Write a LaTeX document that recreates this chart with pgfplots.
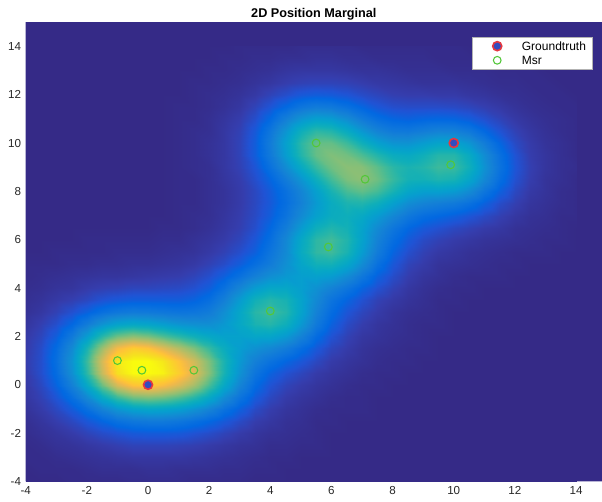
\documentclass[border=0pt]{standalone}
\usepackage{fontspec}
\setmainfont{Liberation Sans}
\usepackage{pgfplots}
\pgfplotsset{compat=1.18}

\definecolor{bgblue}{rgb}{0.2081,0.1663,0.5292}
\definecolor{msrgreen}{rgb}{0.32,0.78,0.22}
\definecolor{gtblue}{rgb}{0.20,0.30,0.75}
\definecolor{gtred}{rgb}{0.90,0.22,0.25}

% parula colour map (every third entry of the 64-step table)
\pgfplotsset{colormap={parula}{
 rgb=(0.2081,0.1663,0.5292) rgb=(0.2081,0.2386,0.6771) rgb=(0.1253,0.3242,0.8303)
 rgb=(0.0060,0.4086,0.8828) rgb=(0.0498,0.4586,0.8641) rgb=(0.0779,0.5040,0.8384)
 rgb=(0.0641,0.5570,0.8240) rgb=(0.0265,0.6137,0.8135) rgb=(0.0228,0.6535,0.7768)
 rgb=(0.0590,0.6838,0.7254) rgb=(0.1453,0.7098,0.6646) rgb=(0.2586,0.7317,0.5954)
 rgb=(0.3953,0.7459,0.5244) rgb=(0.5300,0.7491,0.4661) rgb=(0.6473,0.7456,0.4188)
 rgb=(0.7525,0.7384,0.3768) rgb=(0.8507,0.7299,0.3360) rgb=(0.9450,0.7261,0.2886)
 rgb=(0.9990,0.7653,0.2164) rgb=(0.9789,0.8271,0.1633) rgb=(0.9589,0.8949,0.1132)
 rgb=(0.9763,0.9831,0.0538)}}

\begin{document}
\begin{tikzpicture}
\begin{axis}[
  scale only axis, width=432.2pt, height=344.5pt,
  view={0}{90},
  xmin=-4, xmax=14.85, ymin=-4, ymax=15, zmin=0, zmax=2.5,
  xtick={-4,-2,...,14}, ytick={-4,-2,...,14}, ztick=\empty,
  major tick length=0pt, tick style={draw=none},
  axis line style={draw=none},
  colormap name=parula, point meta min=0, point meta max=2.1,
  ticklabel style={font=\fontsize{8.7}{10}\selectfont, text=black!85},
  /pgf/number format/assume math mode=true,
  title={2D Position Marginal},
  title style={font=\bfseries\fontsize{9.5}{11}\selectfont, yshift=-8pt},
  legend cell align=left,
  legend style={at={(0.983,0.968)}, anchor=north east, fill=white,
    draw=black!30, line width=0.4pt, inner xsep=3pt, inner ysep=1.5pt,
    font=\fontsize{9}{10}\selectfont, /tikz/column sep=3.5pt, /tikz/row sep=0pt,
    nodes={inner xsep=1.5pt, inner ysep=2pt, text height=6.6pt, text depth=0pt}},
  legend image code/.code={\path[draw=none,fill=none] (0pt,-3pt) rectangle (29pt,3pt);
    \draw[#1] plot coordinates {(15.5pt,0pt)};},
]

% empty field
\addplot3[surf, shader=flat, point meta=z, forget plot] coordinates {
(-4,-4,0) (15,-4,0)

(-4,15,0) (15,15,0)
};

% marginal density of the position
\addplot3[surf, shader=interp, point meta=z, forget plot] coordinates {
(-4,-4,0) (-3.5,-4,0) (-3,-4,0) (-2.5,-4,0.01) (-2,-4,0.01) (-1.5,-4,0.01) (-1,-4,0.01) (-0.5,-4,0.02) (0,-4,0.02) (0.5,-4,0.02) (1,-4,0.02) (1.5,-4,0.01) (2,-4,0.01) (2.5,-4,0.01) (3,-4,0.01) (3.5,-4,0) (4,-4,0) (4.5,-4,0) (5,-4,0) (5.5,-4,0) (6,-4,0) (6.5,-4,0) (7,-4,0) (7.5,-4,0) (8,-4,0) (8.5,-4,0) (9,-4,0) (9.5,-4,0) (10,-4,0) (10.5,-4,0) (11,-4,0) (11.5,-4,0) (12,-4,0) (12.5,-4,0) (13,-4,0) (13.5,-4,0) (14,-4,0)

(-4,-3.5,0) (-3.5,-3.5,0.01) (-3,-3.5,0.01) (-2.5,-3.5,0.01) (-2,-3.5,0.02) (-1.5,-3.5,0.03) (-1,-3.5,0.03) (-0.5,-3.5,0.03) (0,-3.5,0.04) (0.5,-3.5,0.04) (1,-3.5,0.03) (1.5,-3.5,0.03) (2,-3.5,0.03) (2.5,-3.5,0.02) (3,-3.5,0.02) (3.5,-3.5,0.01) (4,-3.5,0.01) (4.5,-3.5,0) (5,-3.5,0) (5.5,-3.5,0) (6,-3.5,0) (6.5,-3.5,0) (7,-3.5,0) (7.5,-3.5,0) (8,-3.5,0) (8.5,-3.5,0) (9,-3.5,0) (9.5,-3.5,0) (10,-3.5,0) (10.5,-3.5,0) (11,-3.5,0) (11.5,-3.5,0) (12,-3.5,0) (12.5,-3.5,0) (13,-3.5,0) (13.5,-3.5,0) (14,-3.5,0)

(-4,-3,0.01) (-3.5,-3,0.01) (-3,-3,0.02) (-2.5,-3,0.03) (-2,-3,0.04) (-1.5,-3,0.05) (-1,-3,0.06) (-0.5,-3,0.07) (0,-3,0.07) (0.5,-3,0.07) (1,-3,0.07) (1.5,-3,0.06) (2,-3,0.05) (2.5,-3,0.04) (3,-3,0.03) (3.5,-3,0.02) (4,-3,0.01) (4.5,-3,0.01) (5,-3,0) (5.5,-3,0) (6,-3,0) (6.5,-3,0) (7,-3,0) (7.5,-3,0) (8,-3,0) (8.5,-3,0) (9,-3,0) (9.5,-3,0) (10,-3,0) (10.5,-3,0) (11,-3,0) (11.5,-3,0) (12,-3,0) (12.5,-3,0) (13,-3,0) (13.5,-3,0) (14,-3,0)

(-4,-2.5,0.01) (-3.5,-2.5,0.02) (-3,-2.5,0.04) (-2.5,-2.5,0.05) (-2,-2.5,0.07) (-1.5,-2.5,0.09) (-1,-2.5,0.11) (-0.5,-2.5,0.13) (0,-2.5,0.13) (0.5,-2.5,0.13) (1,-2.5,0.12) (1.5,-2.5,0.11) (2,-2.5,0.09) (2.5,-2.5,0.07) (3,-2.5,0.05) (3.5,-2.5,0.04) (4,-2.5,0.02) (4.5,-2.5,0.02) (5,-2.5,0.01) (5.5,-2.5,0.01) (6,-2.5,0) (6.5,-2.5,0) (7,-2.5,0) (7.5,-2.5,0) (8,-2.5,0) (8.5,-2.5,0) (9,-2.5,0) (9.5,-2.5,0) (10,-2.5,0) (10.5,-2.5,0) (11,-2.5,0) (11.5,-2.5,0) (12,-2.5,0) (12.5,-2.5,0) (13,-2.5,0) (13.5,-2.5,0) (14,-2.5,0)

(-4,-2,0.02) (-3.5,-2,0.04) (-3,-2,0.06) (-2.5,-2,0.09) (-2,-2,0.13) (-1.5,-2,0.17) (-1,-2,0.2) (-0.5,-2,0.23) (0,-2,0.24) (0.5,-2,0.24) (1,-2,0.23) (1.5,-2,0.2) (2,-2,0.17) (2.5,-2,0.13) (3,-2,0.09) (3.5,-2,0.06) (4,-2,0.04) (4.5,-2,0.03) (5,-2,0.02) (5.5,-2,0.01) (6,-2,0) (6.5,-2,0) (7,-2,0) (7.5,-2,0) (8,-2,0) (8.5,-2,0) (9,-2,0) (9.5,-2,0) (10,-2,0) (10.5,-2,0) (11,-2,0) (11.5,-2,0) (12,-2,0) (12.5,-2,0) (13,-2,0) (13.5,-2,0) (14,-2,0)

(-4,-1.5,0.03) (-3.5,-1.5,0.06) (-3,-1.5,0.1) (-2.5,-1.5,0.15) (-2,-1.5,0.22) (-1.5,-1.5,0.29) (-1,-1.5,0.37) (-0.5,-1.5,0.42) (0,-1.5,0.44) (0.5,-1.5,0.44) (1,-1.5,0.41) (1.5,-1.5,0.36) (2,-1.5,0.3) (2.5,-1.5,0.23) (3,-1.5,0.16) (3.5,-1.5,0.1) (4,-1.5,0.07) (4.5,-1.5,0.04) (5,-1.5,0.03) (5.5,-1.5,0.01) (6,-1.5,0.01) (6.5,-1.5,0) (7,-1.5,0) (7.5,-1.5,0) (8,-1.5,0) (8.5,-1.5,0) (9,-1.5,0) (9.5,-1.5,0) (10,-1.5,0) (10.5,-1.5,0) (11,-1.5,0) (11.5,-1.5,0) (12,-1.5,0) (12.5,-1.5,0) (13,-1.5,0) (13.5,-1.5,0) (14,-1.5,0)

(-4,-1,0.05) (-3.5,-1,0.09) (-3,-1,0.15) (-2.5,-1,0.24) (-2,-1,0.36) (-1.5,-1,0.51) (-1,-1,0.65) (-0.5,-1,0.75) (0,-1,0.79) (0.5,-1,0.77) (1,-1,0.72) (1.5,-1,0.63) (2,-1,0.52) (2.5,-1,0.38) (3,-1,0.26) (3.5,-1,0.16) (4,-1,0.1) (4.5,-1,0.06) (5,-1,0.04) (5.5,-1,0.02) (6,-1,0.01) (6.5,-1,0.01) (7,-1,0.01) (7.5,-1,0) (8,-1,0) (8.5,-1,0) (9,-1,0) (9.5,-1,0) (10,-1,0) (10.5,-1,0) (11,-1,0) (11.5,-1,0) (12,-1,0) (12.5,-1,0) (13,-1,0) (13.5,-1,0) (14,-1,0)

(-4,-0.5,0.07) (-3.5,-0.5,0.12) (-3,-0.5,0.21) (-2.5,-0.5,0.36) (-2,-0.5,0.57) (-1.5,-0.5,0.84) (-1,-0.5,1.08) (-0.5,-0.5,1.25) (0,-0.5,1.29) (0.5,-0.5,1.25) (1,-0.5,1.15) (1.5,-0.5,1.01) (2,-0.5,0.82) (2.5,-0.5,0.59) (3,-0.5,0.39) (3.5,-0.5,0.24) (4,-0.5,0.15) (4.5,-0.5,0.09) (5,-0.5,0.06) (5.5,-0.5,0.04) (6,-0.5,0.02) (6.5,-0.5,0.01) (7,-0.5,0.01) (7.5,-0.5,0) (8,-0.5,0) (8.5,-0.5,0) (9,-0.5,0) (9.5,-0.5,0) (10,-0.5,0) (10.5,-0.5,0) (11,-0.5,0) (11.5,-0.5,0) (12,-0.5,0) (12.5,-0.5,0) (13,-0.5,0) (13.5,-0.5,0) (14,-0.5,0)

(-4,0,0.08) (-3.5,0,0.15) (-3,0,0.28) (-2.5,0,0.5) (-2,0,0.82) (-1.5,0,1.22) (-1,0,1.59) (-0.5,0,1.8) (0,0,1.84) (0.5,0,1.75) (1,0,1.6) (1.5,0,1.4) (2,0,1.12) (2.5,0,0.81) (3,0,0.52) (3.5,0,0.32) (4,0,0.2) (4.5,0,0.13) (5,0,0.09) (5.5,0,0.06) (6,0,0.04) (6.5,0,0.02) (7,0,0.01) (7.5,0,0.01) (8,0,0) (8.5,0,0) (9,0,0) (9.5,0,0) (10,0,0) (10.5,0,0) (11,0,0) (11.5,0,0) (12,0,0) (12.5,0,0) (13,0,0) (13.5,0,0) (14,0,0)

(-4,0.5,0.09) (-3.5,0.5,0.18) (-3,0.5,0.33) (-2.5,0.5,0.61) (-2,0.5,1.03) (-1.5,0.5,1.53) (-1,0.5,1.97) (-0.5,0.5,2.1) (0,0.5,2.1) (0.5,0.5,2.06) (1,0.5,1.86) (1.5,0.5,1.62) (2,0.5,1.3) (2.5,0.5,0.94) (3,0.5,0.62) (3.5,0.5,0.4) (4,0.5,0.27) (4.5,0.5,0.19) (5,0.5,0.14) (5.5,0.5,0.09) (6,0.5,0.06) (6.5,0.5,0.04) (7,0.5,0.02) (7.5,0.5,0.01) (8,0.5,0.01) (8.5,0.5,0) (9,0.5,0) (9.5,0.5,0) (10,0.5,0) (10.5,0.5,0) (11,0.5,0) (11.5,0.5,0) (12,0.5,0) (12.5,0.5,0) (13,0.5,0) (13.5,0.5,0) (14,0.5,0)

(-4,1,0.1) (-3.5,1,0.18) (-3,1,0.35) (-2.5,1,0.64) (-2,1,1.08) (-1.5,1,1.59) (-1,1,2.02) (-0.5,1,2.1) (0,1,2.1) (0.5,1,2.01) (1,1,1.79) (1.5,1,1.56) (2,1,1.27) (2.5,1,0.95) (3,1,0.67) (3.5,1,0.49) (4,1,0.38) (4.5,1,0.29) (5,1,0.22) (5.5,1,0.15) (6,1,0.09) (6.5,1,0.06) (7,1,0.04) (7.5,1,0.02) (8,1,0.01) (8.5,1,0.01) (9,1,0) (9.5,1,0) (10,1,0) (10.5,1,0) (11,1,0) (11.5,1,0) (12,1,0) (12.5,1,0) (13,1,0) (13.5,1,0) (14,1,0)

(-4,1.5,0.09) (-3.5,1.5,0.17) (-3,1.5,0.32) (-2.5,1.5,0.57) (-2,1.5,0.95) (-1.5,1.5,1.37) (-1,1.5,1.72) (-0.5,1.5,1.86) (0,1.5,1.8) (0.5,1.5,1.63) (1,1.5,1.45) (1.5,1.5,1.27) (2,1.5,1.06) (2.5,1.5,0.86) (3,1.5,0.71) (3.5,1.5,0.62) (4,1.5,0.55) (4.5,1.5,0.46) (5,1.5,0.34) (5.5,1.5,0.23) (6,1.5,0.14) (6.5,1.5,0.09) (7,1.5,0.05) (7.5,1.5,0.03) (8,1.5,0.02) (8.5,1.5,0.01) (9,1.5,0.01) (9.5,1.5,0) (10,1.5,0) (10.5,1.5,0) (11,1.5,0) (11.5,1.5,0) (12,1.5,0) (12.5,1.5,0) (13,1.5,0) (13.5,1.5,0) (14,1.5,0)

(-4,2,0.08) (-3.5,2,0.14) (-3,2,0.25) (-2.5,2,0.44) (-2,2,0.7) (-1.5,2,1) (-1,2,1.22) (-0.5,2,1.31) (0,2,1.25) (0.5,2,1.13) (1,2,1.01) (1.5,2,0.9) (2,2,0.81) (2.5,2,0.75) (3,2,0.75) (3.5,2,0.79) (4,2,0.78) (4.5,2,0.68) (5,2,0.51) (5.5,2,0.33) (6,2,0.2) (6.5,2,0.12) (7,2,0.07) (7.5,2,0.05) (8,2,0.03) (8.5,2,0.02) (9,2,0.01) (9.5,2,0) (10,2,0) (10.5,2,0) (11,2,0) (11.5,2,0) (12,2,0) (12.5,2,0) (13,2,0) (13.5,2,0) (14,2,0)

(-4,2.5,0.06) (-3.5,2.5,0.11) (-3,2.5,0.18) (-2.5,2.5,0.3) (-2,2.5,0.46) (-1.5,2.5,0.63) (-1,2.5,0.75) (-0.5,2.5,0.8) (0,2.5,0.77) (0.5,2.5,0.71) (1,2.5,0.64) (1.5,2.5,0.61) (2,2.5,0.6) (2.5,2.5,0.67) (3,2.5,0.81) (3.5,2.5,0.95) (4,2.5,1) (4.5,2.5,0.89) (5,2.5,0.67) (5.5,2.5,0.44) (6,2.5,0.27) (6.5,2.5,0.16) (7,2.5,0.1) (7.5,2.5,0.06) (8,2.5,0.04) (8.5,2.5,0.02) (9,2.5,0.01) (9.5,2.5,0.01) (10,2.5,0) (10.5,2.5,0) (11,2.5,0) (11.5,2.5,0) (12,2.5,0) (12.5,2.5,0) (13,2.5,0) (13.5,2.5,0) (14,2.5,0)

(-4,3,0.04) (-3.5,3,0.07) (-3,3,0.12) (-2.5,3,0.19) (-2,3,0.27) (-1.5,3,0.36) (-1,3,0.42) (-0.5,3,0.45) (0,3,0.44) (0.5,3,0.42) (1,3,0.4) (1.5,3,0.41) (2,3,0.46) (2.5,3,0.6) (3,3,0.8) (3.5,3,1.01) (4,3,1.09) (4.5,3,0.99) (5,3,0.76) (5.5,3,0.51) (6,3,0.33) (6.5,3,0.21) (7,3,0.14) (7.5,3,0.09) (8,3,0.05) (8.5,3,0.03) (9,3,0.02) (9.5,3,0.01) (10,3,0) (10.5,3,0) (11,3,0) (11.5,3,0) (12,3,0) (12.5,3,0) (13,3,0) (13.5,3,0) (14,3,0)

(-4,3.5,0.03) (-3.5,3.5,0.05) (-3,3.5,0.08) (-2.5,3.5,0.11) (-2,3.5,0.15) (-1.5,3.5,0.2) (-1,3.5,0.23) (-0.5,3.5,0.25) (0,3.5,0.25) (0.5,3.5,0.25) (1,3.5,0.25) (1.5,3.5,0.28) (2,3.5,0.35) (2.5,3.5,0.49) (3,3.5,0.7) (3.5,3.5,0.91) (4,3.5,1) (4.5,3.5,0.94) (5,3.5,0.76) (5.5,3.5,0.56) (6,3.5,0.39) (6.5,3.5,0.28) (7,3.5,0.19) (7.5,3.5,0.12) (8,3.5,0.08) (8.5,3.5,0.05) (9,3.5,0.03) (9.5,3.5,0.01) (10,3.5,0.01) (10.5,3.5,0) (11,3.5,0) (11.5,3.5,0) (12,3.5,0) (12.5,3.5,0) (13,3.5,0) (13.5,3.5,0) (14,3.5,0)

(-4,4,0.02) (-3.5,4,0.03) (-3,4,0.05) (-2.5,4,0.06) (-2,4,0.09) (-1.5,4,0.11) (-1,4,0.12) (-0.5,4,0.14) (0,4,0.14) (0.5,4,0.15) (1,4,0.16) (1.5,4,0.19) (2,4,0.25) (2.5,4,0.37) (3,4,0.54) (3.5,4,0.7) (4,4,0.8) (4.5,4,0.8) (5,4,0.72) (5.5,4,0.62) (6,4,0.51) (6.5,4,0.4) (7,4,0.28) (7.5,4,0.19) (8,4,0.12) (8.5,4,0.07) (9,4,0.04) (9.5,4,0.02) (10,4,0.01) (10.5,4,0.01) (11,4,0) (11.5,4,0) (12,4,0) (12.5,4,0) (13,4,0) (13.5,4,0) (14,4,0)

(-4,4.5,0.01) (-3.5,4.5,0.02) (-3,4.5,0.03) (-2.5,4.5,0.04) (-2,4.5,0.05) (-1.5,4.5,0.06) (-1,4.5,0.06) (-0.5,4.5,0.07) (0,4.5,0.08) (0.5,4.5,0.09) (1,4.5,0.1) (1.5,4.5,0.13) (2,4.5,0.18) (2.5,4.5,0.26) (3,4.5,0.37) (3.5,4.5,0.49) (4,4.5,0.6) (4.5,4.5,0.67) (5,4.5,0.72) (5.5,4.5,0.74) (6,4.5,0.7) (6.5,4.5,0.58) (7,4.5,0.42) (7.5,4.5,0.27) (8,4.5,0.17) (8.5,4.5,0.1) (9,4.5,0.06) (9.5,4.5,0.04) (10,4.5,0.02) (10.5,4.5,0.01) (11,4.5,0.01) (11.5,4.5,0.01) (12,4.5,0) (12.5,4.5,0) (13,4.5,0) (13.5,4.5,0) (14,4.5,0)

(-4,5,0.01) (-3.5,5,0.01) (-3,5,0.01) (-2.5,5,0.02) (-2,5,0.02) (-1.5,5,0.03) (-1,5,0.03) (-0.5,5,0.04) (0,5,0.04) (0.5,5,0.05) (1,5,0.06) (1.5,5,0.08) (2,5,0.12) (2.5,5,0.17) (3,5,0.25) (3.5,5,0.35) (4,5,0.46) (4.5,5,0.61) (5,5,0.78) (5.5,5,0.91) (6,5,0.92) (6.5,5,0.79) (7,5,0.58) (7.5,5,0.37) (8,5,0.22) (8.5,5,0.13) (9,5,0.09) (9.5,5,0.05) (10,5,0.04) (10.5,5,0.03) (11,5,0.02) (11.5,5,0.01) (12,5,0.01) (12.5,5,0) (13,5,0) (13.5,5,0) (14,5,0)

(-4,5.5,0) (-3.5,5.5,0) (-3,5.5,0.01) (-2.5,5.5,0.01) (-2,5.5,0.01) (-1.5,5.5,0.01) (-1,5.5,0.02) (-0.5,5.5,0.02) (0,5.5,0.02) (0.5,5.5,0.03) (1,5.5,0.04) (1.5,5.5,0.05) (2,5.5,0.08) (2.5,5.5,0.12) (3,5.5,0.18) (3.5,5.5,0.26) (4,5.5,0.4) (4.5,5.5,0.57) (5,5.5,0.84) (5.5,5.5,1.04) (6,5.5,1.09) (6.5,5.5,0.95) (7,5.5,0.7) (7.5,5.5,0.46) (8,5.5,0.28) (8.5,5.5,0.18) (9,5.5,0.12) (9.5,5.5,0.08) (10,5.5,0.06) (10.5,5.5,0.04) (11,5.5,0.03) (11.5,5.5,0.02) (12,5.5,0.01) (12.5,5.5,0.01) (13,5.5,0.01) (13.5,5.5,0) (14,5.5,0)

(-4,6,0) (-3.5,6,0) (-3,6,0) (-2.5,6,0) (-2,6,0.01) (-1.5,6,0.01) (-1,6,0.01) (-0.5,6,0.01) (0,6,0.01) (0.5,6,0.02) (1,6,0.02) (1.5,6,0.04) (2,6,0.06) (2.5,6,0.09) (3,6,0.14) (3.5,6,0.22) (4,6,0.35) (4.5,6,0.55) (5,6,0.81) (5.5,6,1.03) (6,6,1.1) (6.5,6,0.98) (7,6,0.75) (7.5,6,0.51) (8,6,0.34) (8.5,6,0.23) (9,6,0.16) (9.5,6,0.12) (10,6,0.09) (10.5,6,0.07) (11,6,0.05) (11.5,6,0.04) (12,6,0.03) (12.5,6,0.02) (13,6,0.01) (13.5,6,0.01) (14,6,0)

(-4,6.5,0) (-3.5,6.5,0) (-3,6.5,0) (-2.5,6.5,0) (-2,6.5,0) (-1.5,6.5,0) (-1,6.5,0) (-0.5,6.5,0) (0,6.5,0) (0.5,6.5,0.01) (1,6.5,0.01) (1.5,6.5,0.02) (2,6.5,0.04) (2.5,6.5,0.07) (3,6.5,0.11) (3.5,6.5,0.18) (4,6.5,0.3) (4.5,6.5,0.47) (5,6.5,0.69) (5.5,6.5,0.89) (6,6.5,0.98) (6.5,6.5,0.92) (7,6.5,0.76) (7.5,6.5,0.57) (8,6.5,0.41) (8.5,6.5,0.3) (9,6.5,0.23) (9.5,6.5,0.19) (10,6.5,0.15) (10.5,6.5,0.12) (11,6.5,0.09) (11.5,6.5,0.07) (12,6.5,0.04) (12.5,6.5,0.03) (13,6.5,0.02) (13.5,6.5,0.01) (14,6.5,0)

(-4,7,0) (-3.5,7,0) (-3,7,0) (-2.5,7,0) (-2,7,0) (-1.5,7,0) (-1,7,0) (-0.5,7,0) (0,7,0) (0.5,7,0) (1,7,0.01) (1.5,7,0.02) (2,7,0.03) (2.5,7,0.06) (3,7,0.1) (3.5,7,0.16) (4,7,0.25) (4.5,7,0.39) (5,7,0.57) (5.5,7,0.74) (6,7,0.86) (6.5,7,0.89) (7,7,0.82) (7.5,7,0.69) (8,7,0.54) (8.5,7,0.42) (9,7,0.34) (9.5,7,0.3) (10,7,0.26) (10.5,7,0.21) (11,7,0.16) (11.5,7,0.11) (12,7,0.07) (12.5,7,0.04) (13,7,0.03) (13.5,7,0.01) (14,7,0.01)

(-4,7.5,0) (-3.5,7.5,0) (-3,7.5,0) (-2.5,7.5,0) (-2,7.5,0) (-1.5,7.5,0) (-1,7.5,0) (-0.5,7.5,0) (0,7.5,0) (0.5,7.5,0) (1,7.5,0.01) (1.5,7.5,0.01) (2,7.5,0.03) (2.5,7.5,0.05) (3,7.5,0.09) (3.5,7.5,0.15) (4,7.5,0.23) (4.5,7.5,0.35) (5,7.5,0.5) (5.5,7.5,0.68) (6,7.5,0.85) (6.5,7.5,0.96) (7,7.5,0.98) (7.5,7.5,0.89) (8,7.5,0.73) (8.5,7.5,0.59) (9,7.5,0.52) (9.5,7.5,0.48) (10,7.5,0.44) (10.5,7.5,0.37) (11,7.5,0.27) (11.5,7.5,0.17) (12,7.5,0.11) (12.5,7.5,0.06) (13,7.5,0.04) (13.5,7.5,0.02) (14,7.5,0.01)

(-4,8,0) (-3.5,8,0) (-3,8,0) (-2.5,8,0) (-2,8,0) (-1.5,8,0) (-1,8,0) (-0.5,8,0) (0,8,0) (0.5,8,0) (1,8,0.01) (1.5,8,0.01) (2,8,0.03) (2.5,8,0.05) (3,8,0.09) (3.5,8,0.15) (4,8,0.24) (4.5,8,0.37) (5,8,0.53) (5.5,8,0.73) (6,8,0.94) (6.5,8,1.12) (7,8,1.19) (7.5,8,1.11) (8,8,0.94) (8.5,8,0.79) (9,8,0.73) (9.5,8,0.73) (10,8,0.69) (10.5,8,0.58) (11,8,0.41) (11.5,8,0.26) (12,8,0.15) (12.5,8,0.08) (13,8,0.05) (13.5,8,0.02) (14,8,0.01)

(-4,8.5,0) (-3.5,8.5,0) (-3,8.5,0) (-2.5,8.5,0) (-2,8.5,0) (-1.5,8.5,0) (-1,8.5,0) (-0.5,8.5,0) (0,8.5,0) (0.5,8.5,0) (1,8.5,0.01) (1.5,8.5,0.01) (2,8.5,0.03) (2.5,8.5,0.06) (3,8.5,0.1) (3.5,8.5,0.18) (4,8.5,0.29) (4.5,8.5,0.46) (5,8.5,0.65) (5.5,8.5,0.88) (6,8.5,1.1) (6.5,8.5,1.27) (7,8.5,1.32) (7.5,8.5,1.23) (8,8.5,1.06) (8.5,8.5,0.93) (9,8.5,0.92) (9.5,8.5,0.97) (10,8.5,0.94) (10.5,8.5,0.79) (11,8.5,0.56) (11.5,8.5,0.34) (12,8.5,0.19) (12.5,8.5,0.1) (13,8.5,0.05) (13.5,8.5,0.03) (14,8.5,0.01)

(-4,9,0) (-3.5,9,0) (-3,9,0) (-2.5,9,0) (-2,9,0) (-1.5,9,0) (-1,9,0) (-0.5,9,0) (0,9,0) (0.5,9,0) (1,9,0.01) (1.5,9,0.02) (2,9,0.03) (2.5,9,0.07) (3,9,0.12) (3.5,9,0.21) (4,9,0.37) (4.5,9,0.59) (5,9,0.83) (5.5,9,1.06) (6,9,1.23) (6.5,9,1.31) (7,9,1.3) (7.5,9,1.18) (8,9,1.02) (8.5,9,0.95) (9,9,0.99) (9.5,9,1.08) (10,9,1.07) (10.5,9,0.9) (11,9,0.63) (11.5,9,0.38) (12,9,0.21) (12.5,9,0.11) (13,9,0.06) (13.5,9,0.03) (14,9,0.02)

(-4,9.5,0) (-3.5,9.5,0) (-3,9.5,0) (-2.5,9.5,0) (-2,9.5,0) (-1.5,9.5,0) (-1,9.5,0) (-0.5,9.5,0) (0,9.5,0) (0.5,9.5,0) (1,9.5,0.01) (1.5,9.5,0.02) (2,9.5,0.04) (2.5,9.5,0.07) (3,9.5,0.13) (3.5,9.5,0.25) (4,9.5,0.44) (4.5,9.5,0.71) (5,9.5,0.99) (5.5,9.5,1.2) (6,9.5,1.28) (6.5,9.5,1.24) (7,9.5,1.13) (7.5,9.5,0.99) (8,9.5,0.86) (8.5,9.5,0.83) (9,9.5,0.9) (9.5,9.5,1) (10,9.5,1) (10.5,9.5,0.84) (11,9.5,0.59) (11.5,9.5,0.36) (12,9.5,0.2) (12.5,9.5,0.1) (13,9.5,0.06) (13.5,9.5,0.03) (14,9.5,0.01)

(-4,10,0) (-3.5,10,0) (-3,10,0) (-2.5,10,0) (-2,10,0) (-1.5,10,0) (-1,10,0) (-0.5,10,0) (0,10,0) (0.5,10,0) (1,10,0.01) (1.5,10,0.02) (2,10,0.04) (2.5,10,0.07) (3,10,0.13) (3.5,10,0.25) (4,10,0.46) (4.5,10,0.74) (5,10,1.02) (5.5,10,1.2) (6,10,1.2) (6.5,10,1.08) (7,10,0.9) (7.5,10,0.74) (8,10,0.64) (8.5,10,0.63) (9,10,0.7) (9.5,10,0.77) (10,10,0.77) (10.5,10,0.65) (11,10,0.47) (11.5,10,0.29) (12,10,0.16) (12.5,10,0.09) (13,10,0.05) (13.5,10,0.03) (14,10,0.01)

(-4,10.5,0) (-3.5,10.5,0) (-3,10.5,0) (-2.5,10.5,0) (-2,10.5,0) (-1.5,10.5,0) (-1,10.5,0) (-0.5,10.5,0) (0,10.5,0) (0.5,10.5,0) (1,10.5,0.01) (1.5,10.5,0.02) (2,10.5,0.03) (2.5,10.5,0.07) (3,10.5,0.12) (3.5,10.5,0.23) (4,10.5,0.41) (4.5,10.5,0.65) (5,10.5,0.89) (5.5,10.5,1.03) (6,10.5,0.99) (6.5,10.5,0.84) (7,10.5,0.66) (7.5,10.5,0.52) (8,10.5,0.44) (8.5,10.5,0.43) (9,10.5,0.47) (9.5,10.5,0.51) (10,10.5,0.5) (10.5,10.5,0.43) (11,10.5,0.31) (11.5,10.5,0.2) (12,10.5,0.12) (12.5,10.5,0.07) (13,10.5,0.04) (13.5,10.5,0.02) (14,10.5,0.01)

(-4,11,0) (-3.5,11,0) (-3,11,0) (-2.5,11,0) (-2,11,0) (-1.5,11,0) (-1,11,0) (-0.5,11,0) (0,11,0) (0.5,11,0) (1,11,0.01) (1.5,11,0.01) (2,11,0.03) (2.5,11,0.06) (3,11,0.1) (3.5,11,0.18) (4,11,0.31) (4.5,11,0.49) (5,11,0.65) (5.5,11,0.74) (6,11,0.71) (6.5,11,0.59) (7,11,0.45) (7.5,11,0.35) (8,11,0.29) (8.5,11,0.27) (9,11,0.29) (9.5,11,0.3) (10,11,0.29) (10.5,11,0.25) (11,11,0.19) (11.5,11,0.13) (12,11,0.08) (12.5,11,0.05) (13,11,0.03) (13.5,11,0.02) (14,11,0.01)

(-4,11.5,0) (-3.5,11.5,0) (-3,11.5,0) (-2.5,11.5,0) (-2,11.5,0) (-1.5,11.5,0) (-1,11.5,0) (-0.5,11.5,0) (0,11.5,0) (0.5,11.5,0) (1,11.5,0.01) (1.5,11.5,0.01) (2,11.5,0.02) (2.5,11.5,0.04) (3,11.5,0.07) (3.5,11.5,0.13) (4,11.5,0.21) (4.5,11.5,0.31) (5,11.5,0.41) (5.5,11.5,0.46) (6,11.5,0.44) (6.5,11.5,0.37) (7,11.5,0.29) (7.5,11.5,0.22) (8,11.5,0.18) (8.5,11.5,0.17) (9,11.5,0.17) (9.5,11.5,0.17) (10,11.5,0.16) (10.5,11.5,0.14) (11,11.5,0.11) (11.5,11.5,0.08) (12,11.5,0.05) (12.5,11.5,0.03) (13,11.5,0.02) (13.5,11.5,0.01) (14,11.5,0.01)

(-4,12,0) (-3.5,12,0) (-3,12,0) (-2.5,12,0) (-2,12,0) (-1.5,12,0) (-1,12,0) (-0.5,12,0) (0,12,0) (0.5,12,0) (1,12,0) (1.5,12,0.01) (2,12,0.02) (2.5,12,0.03) (3,12,0.05) (3.5,12,0.08) (4,12,0.13) (4.5,12,0.18) (5,12,0.23) (5.5,12,0.25) (6,12,0.24) (6.5,12,0.21) (7,12,0.17) (7.5,12,0.14) (8,12,0.11) (8.5,12,0.1) (9,12,0.1) (9.5,12,0.09) (10,12,0.09) (10.5,12,0.07) (11,12,0.06) (11.5,12,0.04) (12,12,0.03) (12.5,12,0.02) (13,12,0.01) (13.5,12,0.01) (14,12,0)

(-4,12.5,0) (-3.5,12.5,0) (-3,12.5,0) (-2.5,12.5,0) (-2,12.5,0) (-1.5,12.5,0) (-1,12.5,0) (-0.5,12.5,0) (0,12.5,0) (0.5,12.5,0) (1,12.5,0) (1.5,12.5,0.01) (2,12.5,0.01) (2.5,12.5,0.02) (3,12.5,0.03) (3.5,12.5,0.05) (4,12.5,0.07) (4.5,12.5,0.1) (5,12.5,0.12) (5.5,12.5,0.13) (6,12.5,0.13) (6.5,12.5,0.12) (7,12.5,0.1) (7.5,12.5,0.08) (8,12.5,0.07) (8.5,12.5,0.06) (9,12.5,0.05) (9.5,12.5,0.05) (10,12.5,0.05) (10.5,12.5,0.04) (11,12.5,0.03) (11.5,12.5,0.02) (12,12.5,0.02) (12.5,12.5,0.01) (13,12.5,0.01) (13.5,12.5,0) (14,12.5,0)

(-4,13,0) (-3.5,13,0) (-3,13,0) (-2.5,13,0) (-2,13,0) (-1.5,13,0) (-1,13,0) (-0.5,13,0) (0,13,0) (0.5,13,0) (1,13,0) (1.5,13,0) (2,13,0.01) (2.5,13,0.01) (3,13,0.02) (3.5,13,0.03) (4,13,0.04) (4.5,13,0.06) (5,13,0.07) (5.5,13,0.07) (6,13,0.07) (6.5,13,0.06) (7,13,0.05) (7.5,13,0.05) (8,13,0.04) (8.5,13,0.03) (9,13,0.03) (9.5,13,0.03) (10,13,0.02) (10.5,13,0.02) (11,13,0.02) (11.5,13,0.01) (12,13,0.01) (12.5,13,0.01) (13,13,0) (13.5,13,0) (14,13,0)

(-4,13.5,0) (-3.5,13.5,0) (-3,13.5,0) (-2.5,13.5,0) (-2,13.5,0) (-1.5,13.5,0) (-1,13.5,0) (-0.5,13.5,0) (0,13.5,0) (0.5,13.5,0) (1,13.5,0) (1.5,13.5,0) (2,13.5,0) (2.5,13.5,0.01) (3,13.5,0.01) (3.5,13.5,0.02) (4,13.5,0.02) (4.5,13.5,0.03) (5,13.5,0.03) (5.5,13.5,0.04) (6,13.5,0.04) (6.5,13.5,0.03) (7,13.5,0.03) (7.5,13.5,0.02) (8,13.5,0.02) (8.5,13.5,0.02) (9,13.5,0.02) (9.5,13.5,0.01) (10,13.5,0.01) (10.5,13.5,0.01) (11,13.5,0.01) (11.5,13.5,0.01) (12,13.5,0) (12.5,13.5,0) (13,13.5,0) (13.5,13.5,0) (14,13.5,0)

(-4,14,0) (-3.5,14,0) (-3,14,0) (-2.5,14,0) (-2,14,0) (-1.5,14,0) (-1,14,0) (-0.5,14,0) (0,14,0) (0.5,14,0) (1,14,0) (1.5,14,0) (2,14,0) (2.5,14,0) (3,14,0.01) (3.5,14,0.01) (4,14,0.01) (4.5,14,0.01) (5,14,0.02) (5.5,14,0.02) (6,14,0.02) (6.5,14,0.02) (7,14,0.01) (7.5,14,0.01) (8,14,0.01) (8.5,14,0.01) (9,14,0.01) (9.5,14,0.01) (10,14,0.01) (10.5,14,0) (11,14,0) (11.5,14,0) (12,14,0) (12.5,14,0) (13,14,0) (13.5,14,0) (14,14,0)
};

\addplot3[only marks, mark=*, mark size=3.4pt,
  mark options={fill=gtblue, draw=gtred, line width=1.2pt}]
  coordinates {(0,0,2.5) (10,10,2.5)};
\addlegendentry{Groundtruth}

\addplot3[only marks, mark=o, mark size=2.9pt,
  mark options={draw=msrgreen, line width=0.8pt}]
  coordinates {(-1,1,2.5) (-0.2,0.6,2.5) (1.5,0.6,2.5) (4,3.05,2.5)
               (5.9,5.7,2.5) (5.5,10,2.5) (7.1,8.5,2.5) (9.9,9.1,2.5)};
\addlegendentry{Msr}
\end{axis}
\pgfresetboundingbox
\path[use as bounding box] ([xshift=-19.3pt,yshift=-14.7pt]current axis.south west)
  rectangle ([yshift=16.6pt]current axis.north east);
\end{tikzpicture}
\end{document}
